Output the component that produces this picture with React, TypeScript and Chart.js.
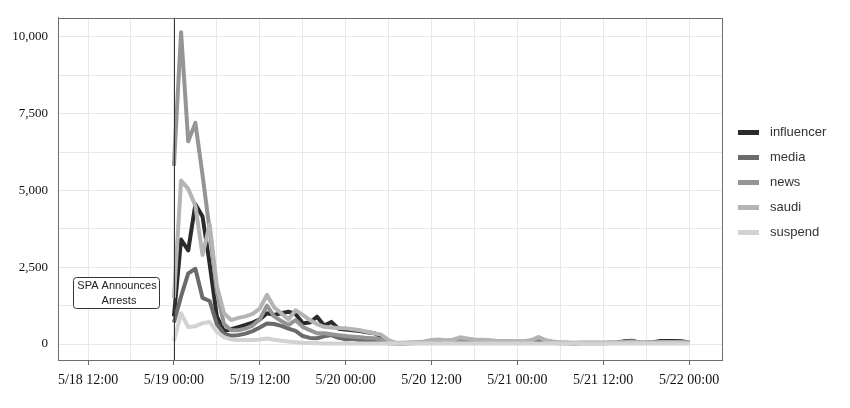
import React, { useEffect, useRef } from "react";
import { Chart, registerables } from "chart.js";

Chart.register(...registerables);

// hours since 5/19 00:00
const hours = [
  0, 1, 2, 3, 4, 5, 6, 7, 8, 9, 10, 11, 12, 13, 14, 15, 16, 17, 18, 19, 20, 21, 22, 23, 24,
  25, 26, 27, 28, 29, 30, 31, 32, 33, 34, 35, 36, 37, 38, 39, 40, 41, 42, 43, 44, 45, 46, 47, 48,
  49, 50, 51, 52, 53, 54, 55, 56, 57, 58, 59, 60, 61, 62, 63, 64, 65, 66, 67, 68, 69, 70, 71, 72,
];

const influencer = [
  900, 3400, 3050, 4550, 4150, 2600, 900, 420, 480, 550, 620, 700, 800, 1000, 950, 1000, 1050, 980, 680, 700, 890, 600, 720, 500, 470,
  450, 420, 380, 350, 250, 80, 30, 25, 30, 40, 50, 90, 70, 80, 60, 110, 70, 60, 50, 60, 50, 50, 60, 70,
  60, 60, 110, 60, 40, 30, 30, 25, 30, 30, 35, 30, 40, 50, 90, 110, 50, 40, 60, 100, 100, 100, 90, 40,
];

const media = [
  700, 1550, 2300, 2450, 1500, 1400, 650, 330, 270, 290, 340, 420, 540, 670, 650, 590, 500, 430, 260, 200, 190, 250, 290, 200, 150,
  170, 120, 100, 80, 50, 25, 20, 20, 25, 30, 40, 60, 50, 60, 50, 80, 60, 50, 40, 50, 40, 40, 50, 50,
  50, 50, 80, 40, 30, 25, 25, 20, 25, 25, 30, 25, 30, 35, 50, 60, 40, 30, 40, 60, 60, 60, 50, 30,
];

const news = [
  5800, 10150, 6600, 7200, 5500, 3700, 1700, 650, 450, 450, 500, 600, 800, 1250, 900, 750, 620, 780, 560, 450, 350, 350, 320, 290, 260,
  240, 220, 200, 185, 150, 60, 25, 30, 40, 50, 60, 110, 120, 100, 110, 180, 140, 120, 110, 100, 90, 80, 80, 80,
  90, 110, 190, 100, 60, 40, 40, 35, 40, 40, 45, 40, 45, 50, 70, 90, 50, 45, 50, 70, 70, 70, 60, 40,
];

const saudi = [
  1500, 5320, 5050, 4500, 2900, 3900, 1900, 1000, 780, 850, 900, 980, 1150, 1600, 1200, 1000, 800, 1100, 950, 780, 650, 560, 540, 520, 510,
  480, 450, 400, 350, 300, 130, 40, 40, 50, 60, 80, 130, 150, 120, 140, 220, 180, 150, 140, 130, 110, 100, 100, 90,
  100, 130, 230, 120, 80, 50, 50, 45, 50, 50, 50, 45, 50, 50, 60, 70, 55, 50, 50, 60, 60, 60, 55, 45,
];

const suspend = [
  100, 1000, 550, 580, 680, 720, 400, 220, 150, 130, 130, 130, 150, 180, 140, 110, 80, 60, 40, 30, 25, 20, 20, 20, 20,
  20, 20, 18, 18, 15, 15, 15, 15, 15, 15, 15, 20, 20, 20, 20, 25, 20, 20, 20, 20, 20, 15, 15, 15,
  15, 15, 20, 15, 15, 15, 15, 15, 15, 15, 15, 15, 15, 15, 15, 20, 15, 15, 15, 15, 15, 15, 15, 15,
];

const seriesNames = ["influencer", "media", "news", "saudi", "suspend"];
const seriesColors = ["#2b2b2b", "#6b6b6b", "#959595", "#b4b4b4", "#d2d2d2"];

const xTickHours = [-12, -6, 0, 6, 12, 18, 24, 30, 36, 42, 48, 54, 60, 66, 72];
const xTickLabels: Record<string, string> = {
  "-12": "5/18 12:00",
  "0": "5/19 00:00",
  "12": "5/19 12:00",
  "24": "5/20 00:00",
  "36": "5/20 12:00",
  "48": "5/21 00:00",
  "60": "5/21 12:00",
  "72": "5/22 00:00",
};

const yTickValues = [0, 1250, 2500, 3750, 5000, 6250, 7500, 8750, 10000];
const yLabelled = [0, 2500, 5000, 7500, 10000];

const eventHour = 0;
const eventLabel = ["SPA Announces", "Arrests"];

export default function App() {
  const canvasRef = useRef<HTMLCanvasElement | null>(null);

  useEffect(() => {
    const canvas = canvasRef.current;
    if (!canvas) return;

    const series = [influencer, media, news, saudi, suspend];

    const overlay = {
      id: "overlay",
      afterDatasetsDraw(chart: any) {
        const { ctx, chartArea, scales } = chart;
        const x0 = Math.round(scales.x.getPixelForValue(eventHour)) + 0.5;
        ctx.save();
        ctx.strokeStyle = "#333";
        ctx.lineWidth = 1;
        ctx.beginPath();
        ctx.moveTo(x0, chartArea.top);
        ctx.lineTo(x0, chartArea.bottom);
        ctx.stroke();
        ctx.restore();
      },
      afterDraw(chart: any) {
        const { ctx, chartArea } = chart;
        ctx.save();
        // plot box
        ctx.strokeStyle = "#6e6e6e";
        ctx.lineWidth = 1;
        ctx.strokeRect(
          Math.round(chartArea.left) + 0.5,
          Math.round(chartArea.top) + 0.5,
          Math.round(chartArea.right - chartArea.left),
          Math.round(chartArea.bottom - chartArea.top)
        );

        // annotation box
        const bx = 73.5, by = 277.5, bw = 86, bh = 31, r = 3;
        ctx.beginPath();
        ctx.moveTo(bx + r, by);
        ctx.lineTo(bx + bw - r, by);
        ctx.quadraticCurveTo(bx + bw, by, bx + bw, by + r);
        ctx.lineTo(bx + bw, by + bh - r);
        ctx.quadraticCurveTo(bx + bw, by + bh, bx + bw - r, by + bh);
        ctx.lineTo(bx + r, by + bh);
        ctx.quadraticCurveTo(bx, by + bh, bx, by + bh - r);
        ctx.lineTo(bx, by + r);
        ctx.quadraticCurveTo(bx, by, bx + r, by);
        ctx.closePath();
        ctx.fillStyle = "#ffffff";
        ctx.fill();
        ctx.strokeStyle = "#333";
        ctx.stroke();
        ctx.fillStyle = "#222";
        ctx.font = "11px 'Liberation Sans', Arial, sans-serif";
        ctx.textAlign = "center";
        ctx.textBaseline = "middle";
        ctx.fillText(eventLabel[0], 117, 286);
        ctx.fillText(eventLabel[1], 119, 301);

        // legend
        ctx.textAlign = "left";
        ctx.font = "13px 'Liberation Sans', Arial, sans-serif";
        seriesNames.forEach((name, i) => {
          const cy = 132.5 + i * 25;
          ctx.fillStyle = seriesColors[i];
          ctx.fillRect(738, cy - 2.5, 21, 5);
          ctx.fillStyle = "#333";
          ctx.fillText(name, 770, cy);
        });
        ctx.restore();
      },
    };

    const chart = new Chart(canvas, {
      type: "line",
      data: {
        datasets: series.map((vals, i) => ({
          label: seriesNames[i],
          data: hours.map((h, j) => ({ x: h, y: vals[j] })),
          borderColor: seriesColors[i],
          backgroundColor: seriesColors[i],
          borderWidth: 4,
          pointRadius: 0,
          tension: 0,
          fill: false,
          order: series.length - i,
          borderJoinStyle: "round" as const,
        })),
      },
      options: {
        animation: false,
        responsive: true,
        maintainAspectRatio: false,
        layout: { padding: { top: 17, right: 128, left: 0, bottom: 0 } },
        plugins: {
          legend: { display: false },
          tooltip: { enabled: false },
        },
        scales: {
          x: {
            type: "linear",
            min: -16.2,
            max: 76.6,
            afterBuildTicks: (scale: any) => {
              scale.ticks = xTickHours.map((v) => ({ value: v }));
            },
            afterFit: (scale: any) => {
              scale.height = 48;
            },
            grid: {
              color: "#e8e8e8",
              lineWidth: 1,
              drawTicks: true,
              tickLength: 5,
              tickColor: (ctx: any) =>
                xTickLabels[String(ctx.tick?.value)] !== undefined ? "#666" : "rgba(0,0,0,0)",
            },
            border: { display: true, color: "#6e6e6e" },
            ticks: {
              autoSkip: false,
              maxRotation: 0,
              padding: 7,
              color: "#111",
              font: { family: "'Liberation Serif', 'Times New Roman', serif", size: 14 },
              callback: (v: any) => xTickLabels[String(v)] ?? "",
            },
          },
          y: {
            type: "linear",
            min: -520,
            max: 10620,
            afterBuildTicks: (scale: any) => {
              scale.ticks = yTickValues.map((v) => ({ value: v }));
            },
            afterFit: (scale: any) => {
              scale.width = 58;
            },
            grid: { color: "#e8e8e8", lineWidth: 1, drawTicks: false },
            border: { display: true, color: "#6e6e6e" },
            ticks: {
              padding: 10,
              color: "#111",
              font: { family: "'Liberation Serif', 'Times New Roman', serif", size: 13 },
              callback: (v: any) =>
                yLabelled.includes(v) ? Number(v).toLocaleString("en-US") : "",
            },
          },
        },
      },
      plugins: [overlay],
    });

    return () => chart.destroy();
  }, []);

  return (
    <div style={{ position: "fixed", left: 0, top: 0, width: 850, height: 408, background: "#fff" }}>
      <canvas ref={canvasRef} />
    </div>
  );
}
